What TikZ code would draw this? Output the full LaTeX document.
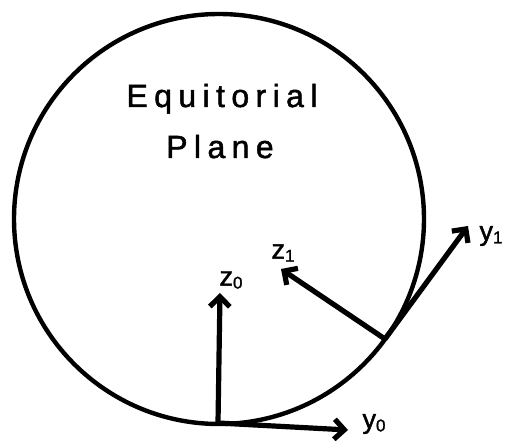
\documentclass[tikz,border=0pt]{standalone}
\usepackage{fontspec}
\setmainfont{Liberation Sans}
\usetikzlibrary{arrows.meta}
\newcommand{\sbs}[1]{\raisebox{-3pt}{\fontsize{17}{17}\selectfont #1}}
\begin{document}
\begin{tikzpicture}[x=1pt,y=-1pt,
  axis/.style={line width=5.2pt,-{Straight Barb[length=10pt,width=20pt]}},
  lbl/.style={inner sep=0pt,font=\fontsize{27}{30}\selectfont\addfontfeature{FakeBold=1.5}},
  title/.style={inner sep=0pt,anchor=base,font=\fontsize{32}{36}\selectfont\addfontfeature{LetterSpace=20,FakeBold=1.5}}]
\useasboundingbox (0,0) rectangle (507,441);
\coordinate (C) at (219,219);
\draw[line width=4.4pt] (C) circle[radius=205];
\node[title] (t1) at (222,107) {Equitorial};
\node[title] (t2) at (220,158) {Plane};
\coordinate (O0) at (218,423);
\coordinate (P1) at (385,339);
\coordinate (Z0) at (220,293);
\coordinate (Y0) at (348,430);
\coordinate (Z1) at (281,269);
\coordinate (Y1) at (468,226);
\draw[axis] (O0) -- (Z0);
\draw[axis] (O0) -- (Y0);
\draw[axis] (P1) -- (Z1);
\draw[axis] (P1) -- (Y1);
\node[lbl] (lz0) at (231,280) {z\sbs{0}};
\node[lbl] (ly0) at (374,424) {y\sbs{0}};
\node[lbl] (lz1) at (283,253) {z\sbs{1}};
\node[lbl] (ly1) at (491,236) {y\sbs{1}};
\end{tikzpicture}
\end{document}
